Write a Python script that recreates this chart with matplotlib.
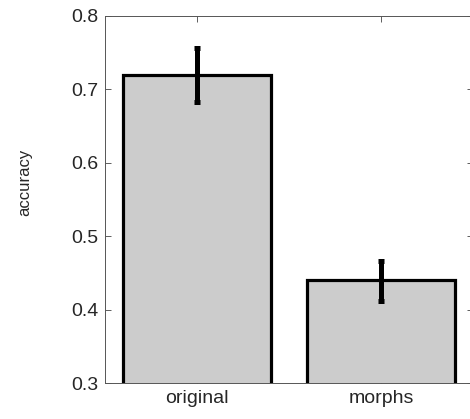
import matplotlib
matplotlib.use("Agg")
import matplotlib.pyplot as plt

plt.rcParams['font.family'] = ['Liberation Sans', 'DejaVu Sans']

categories = ["original", "morphs"]
accuracy = [0.72, 0.44]
err_low = [0.683, 0.412]
err_high = [0.757, 0.466]
yticks = [0.3, 0.4, 0.5, 0.6, 0.7, 0.8]

W, H = 470, 419
fig = plt.figure(figsize=(W / 100, H / 100), dpi=100)
ax = fig.add_axes([105 / W, 1 - 383 / H, (473 - 105) / W, (383 - 16) / H])

x = [1, 2]
ax.bar(x, accuracy, width=0.8, color="#cccccc", edgecolor="black",
       linewidth=2.3, zorder=2)
lower = [a - l for a, l in zip(accuracy, err_low)]
upper = [h - a for a, h in zip(accuracy, err_high)]
ax.errorbar(x, accuracy, yerr=[lower, upper], fmt="none", ecolor="black",
            elinewidth=3.6, capsize=2.2, capthick=3.6, zorder=3)

ax.set_xlim(0.5, 2.5)
ax.set_ylim(0.3, 0.8)
ax.set_xticks(x)
ax.set_xticklabels(categories)
ax.set_yticks(yticks)
ax.set_yticklabels([f"{v:.1f}" for v in yticks])
ax.set_ylabel("accuracy", fontsize=12, color="#262626")
ax.yaxis.set_label_coords(-0.197, 0.547)

ax.tick_params(direction="in", length=4, width=0.6, color="#444444",
               top=True, right=True, labelsize=14, labelcolor="#262626",
               pad=5)
for s in ax.spines.values():
    s.set_color("#555555")
    s.set_linewidth(0.7)

fig.savefig("out.png", dpi=100)
